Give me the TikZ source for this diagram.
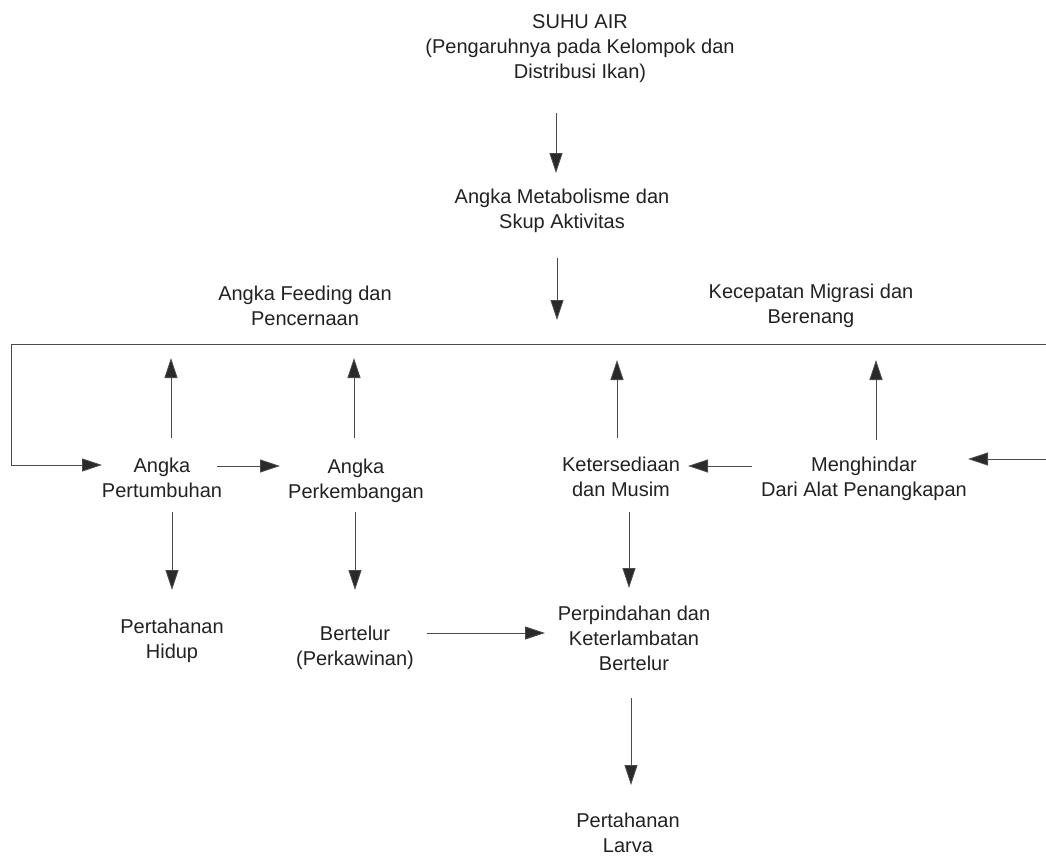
\documentclass[tikz,border=0pt]{standalone}
\usepackage{fontspec}
\setmainfont{Liberation Sans}
\usetikzlibrary{arrows.meta}
\definecolor{txt}{HTML}{222222}
\definecolor{ln}{HTML}{4A4A4A}
\definecolor{tip}{HTML}{2A2A2A}
\begin{document}
\begin{tikzpicture}[x=1pt,y=-1pt,
  lbl/.style={align=center,font=\fontsize{20}{25}\selectfont,text=txt,inner sep=0pt},
  arr/.style={draw=ln,line width=0.8pt,-{Triangle[length=20pt,width=13pt,fill=tip]}}]
\useasboundingbox[fill=white] (0,0) rectangle (1046,857);

% text nodes
\node[lbl] (suhu) at (580,48.5) {SUHU AIR\\(Pengaruhnya pada Kelompok dan\\Distribusi Ikan)};
\node[lbl] (metab) at (562,211) {Angka Metabolisme dan\\Skup Aktivitas};
\node[lbl] (feed) at (305,305.5) {Angka Feeding dan\\Pencernaan};
\node[lbl] (migr) at (811,306) {Kecepatan Migrasi dan\\Berenang};
\node[lbl] (tumb) at (162,478) {Angka\\Pertumbuhan};
\node[lbl] (kemb) at (356,480.5) {Angka\\Perkembangan};
\node[lbl] (sedia) at (621,477) {Ketersediaan\\dan Musim};
\node[lbl] (hindar) at (864,479) {Menghindar\\Dari Alat Penangkapan};
\node[lbl] (hidup) at (172,641) {Pertahanan\\Hidup};
\node[lbl] (telur) at (355,648) {Bertelur\\(Perkawinan)};
\node[lbl] (pindah) at (634,638) {Perpindahan dan\\Keterlambatan\\Bertelur};
\node[lbl] (larva) at (628,833) {Pertahanan\\Larva};

% arrow end points
\coordinate (a1s) at (556,113);  \coordinate (a1e) at (556,173);
\coordinate (a2s) at (557,258);  \coordinate (a2e) at (557,320);
\coordinate (u1s) at (171,438);  \coordinate (u1e) at (171,358);
\coordinate (u2s) at (354,438);  \coordinate (u2e) at (354,358);
\coordinate (u3s) at (617,438);  \coordinate (u3e) at (617,360);
\coordinate (u4s) at (876,440);  \coordinate (u4e) at (876,360);
\coordinate (barR) at (1046,344); \coordinate (barL) at (11,344);
\coordinate (loopB) at (11,465);  \coordinate (loopE) at (102,465);
\coordinate (h1s) at (217,466);  \coordinate (h1e) at (280,466);
\coordinate (h2s) at (752,466);  \coordinate (h2e) at (688,466);
\coordinate (h3s) at (1046,459); \coordinate (h3e) at (968,459);
\coordinate (d1s) at (172,512);  \coordinate (d1e) at (172,590);
\coordinate (d2s) at (355,512);  \coordinate (d2e) at (355,590);
\coordinate (d3s) at (629,512);  \coordinate (d3e) at (629,588);
\coordinate (h4s) at (427,633);  \coordinate (h4e) at (545,633);
\coordinate (d4s) at (631,698);  \coordinate (d4e) at (631,785);

% connectors
\draw[arr] (a1s) -- (a1e);
\draw[arr] (a2s) -- (a2e);
\draw[arr] (barR) -- (barL) -- (loopB) -- (loopE);
\draw[arr] (u1s) -- (u1e);
\draw[arr] (u2s) -- (u2e);
\draw[arr] (u3s) -- (u3e);
\draw[arr] (u4s) -- (u4e);
\draw[arr] (h1s) -- (h1e);
\draw[arr] (h2s) -- (h2e);
\draw[arr] (h3s) -- (h3e);
\draw[arr] (d1s) -- (d1e);
\draw[arr] (d2s) -- (d2e);
\draw[arr] (d3s) -- (d3e);
\draw[arr] (h4s) -- (h4e);
\draw[arr] (d4s) -- (d4e);
\end{tikzpicture}
\end{document}
